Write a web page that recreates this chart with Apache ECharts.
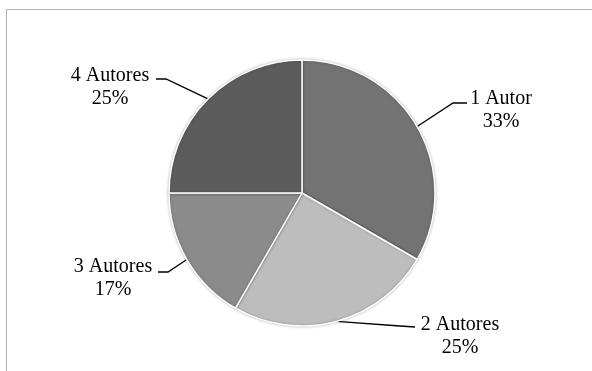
<!DOCTYPE html>
<html>
<head>
<meta charset="utf-8">
<script src="https://cdn.jsdelivr.net/npm/echarts@6/dist/echarts.min.js"></script>
<style>
  html, body { margin: 0; padding: 0; background: #fff; }
  #chart { width: 592px; height: 371px; }
</style>
</head>
<body>
<div id="chart"></div>
<script>
const categories = ['1 Autor', '2 Autores', '3 Autores', '4 Autores'];
const shares = [33.33, 25, 16.67, 25];
const sliceColors = ['#737373', '#bdbdbd', '#8b8b8b', '#5c5c5c'];

// label placement (style only)
const labelPlace = [
  { x: 501, y: 87,  p1: [453, 103], p2: [467, 103] },
  { x: 460, y: 313, p1: [400, 326], p2: [415, 327] },
  { x: 113, y: 255, p1: [168, 272], p2: [158, 272] },
  { x: 110, y: 64,  p1: [166, 79],  p2: [156, 79] }
];

const chart = echarts.init(document.getElementById('chart'), null, { renderer: 'canvas' });
chart.setOption({
  backgroundColor: '#ffffff',
  animation: false,
  graphic: [
    { type: 'line', shape: { x1: 6.5, y1: 9.5, x2: 592, y2: 9.5 }, style: { stroke: '#b0b0b0', lineWidth: 1 } },
    { type: 'line', shape: { x1: 6.5, y1: 9.5, x2: 6.5, y2: 371 }, style: { stroke: '#b0b0b0', lineWidth: 1 } }
  ],
  series: [{
    type: 'pie',
    center: [302, 193],
    radius: 133,
    startAngle: 90,
    clockwise: true,
    data: categories.map((c, i) => ({ name: c, value: shares[i], itemStyle: { color: sliceColors[i] } })),
    itemStyle: {
      borderColor: '#ffffff',
      borderWidth: 1.5,
      shadowBlur: 3,
      shadowColor: 'rgba(0,0,0,0.25)'
    },
    label: {
      show: true,
      position: 'outside',
      formatter: p => p.name + '\n' + Math.round(p.value) + '%',
      fontFamily: '"Liberation Serif", "Times New Roman", serif',
      fontSize: 20,
      lineHeight: 23,
      color: '#000',
      align: 'center'
    },
    labelLine: {
      show: true,
      lineStyle: { color: '#000', width: 1.3 }
    },
    labelLayout: function (params) {
      const lp = labelPlace[params.dataIndex];
      const p0 = params.labelLinePoints ? params.labelLinePoints[0] : lp.p1;
      return {
        x: lp.x,
        y: lp.y,
        align: 'center',
        verticalAlign: 'top',
        labelLinePoints: [p0, lp.p1, lp.p2]
      };
    },
    emphasis: { disabled: true }
  }]
});
</script>
</body>
</html>
